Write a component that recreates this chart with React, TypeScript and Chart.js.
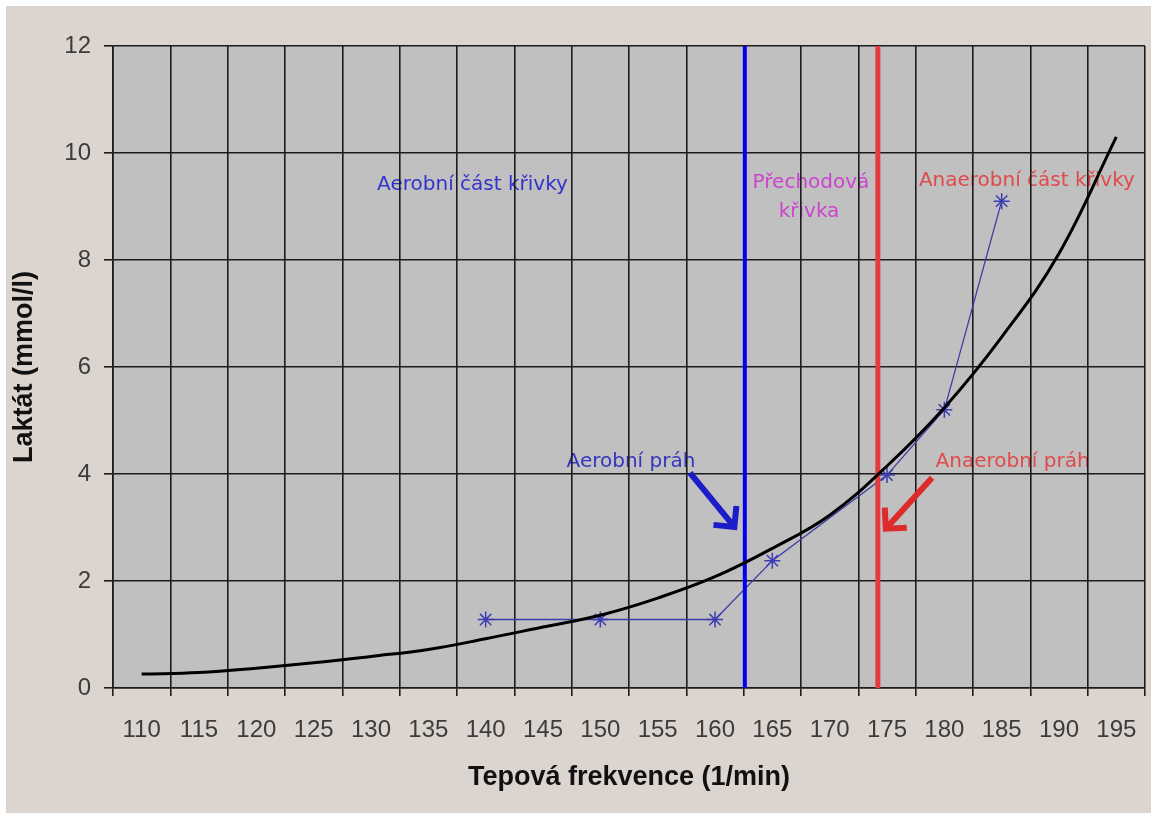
import React, { useEffect, useRef } from 'react';
import { Chart, registerables } from 'chart.js';

Chart.register(...registerables);

// ---- data ----
const heartRates = [110, 115, 120, 125, 130, 135, 140, 145, 150, 155, 160, 165, 170, 175, 180, 185, 190, 195];
const lactateCurve = [0.26, 0.29, 0.37, 0.47, 0.59, 0.72, 0.92, 1.14, 1.36, 1.68, 2.08, 2.61, 3.23, 4.15, 5.24, 6.56, 8.12, 10.3];
const measuredHR = [140, 150, 160, 165, 175, 180, 185];
const measuredLactate = [1.28, 1.28, 1.28, 2.38, 3.98, 5.2, 9.1];
const lactateTicks = [0, 2, 4, 6, 8, 10, 12];
const aerobicThreshold = 162.6;
const anaerobicThreshold = 174.2;

// annotation labels (data coordinates)
const noteTexts = ['Aerobní část křivky', 'Přechodová', 'křivka', 'Anaerobní část křivky', 'Aerobní práh', 'Anaerobní práh'];
const noteX = [138.85, 168.37, 168.2, 187.2, 152.67, 185.95];
const noteY = [9.4, 9.44, 8.9, 9.48, 4.22, 4.22];
const noteColors = ['#3333cc', '#cc44cc', '#cc44cc', '#e04a4a', '#3535c0', '#e04a4a'];

// arrows: [fromX, fromY, toX, toY]
const arrowCoords = [
  [157.82, 4.02, 161.92, 2.95],
  [178.93, 3.93, 174.65, 2.92],
];
const arrowColors = ['#1c1cc8', '#dd2a2a'];

const xMin = 107.5;
const xMax = 197.5;

function drawArrow(c: CanvasRenderingContext2D, x1: number, y1: number, x2: number, y2: number, color: string, width: number, head: number) {
  const ang = Math.atan2(y2 - y1, x2 - x1);
  const tx = x2 - Math.cos(ang) * width * 0.7;
  const ty = y2 - Math.sin(ang) * width * 0.7;
  c.save();
  c.strokeStyle = color;
  c.lineWidth = width;
  c.lineCap = 'butt';
  c.lineJoin = 'miter';
  c.beginPath();
  c.moveTo(x1, y1);
  c.lineTo(tx, ty);
  c.stroke();
  c.beginPath();
  c.moveTo(tx - head * Math.cos(ang - Math.PI / 4), ty - head * Math.sin(ang - Math.PI / 4));
  c.lineTo(tx, ty);
  c.lineTo(tx - head * Math.cos(ang + Math.PI / 4), ty - head * Math.sin(ang + Math.PI / 4));
  c.stroke();
  c.restore();
}

const App = () => {
  const ref = useRef<HTMLCanvasElement>(null);

  useEffect(() => {
    document.body.style.margin = '0';
    const canvas = ref.current;
    if (!canvas) return;

    const bgPlugin = {
      id: 'bgPlugin',
      beforeDraw(chart: any) {
        const c = chart.ctx as CanvasRenderingContext2D;
        const { left, top, right, bottom } = chart.chartArea;
        c.save();
        c.fillStyle = '#ffffff';
        c.fillRect(0, 0, chart.width, chart.height);
        c.fillStyle = '#dcd4ce';
        c.fillRect(6, 6, chart.width - 12, chart.height - 9);
        c.fillStyle = '#c0c0c0';
        c.fillRect(left, top, right - left, bottom - top);
        const xs = chart.scales.x;
        const ys = chart.scales.y;
        c.font = '20px "DejaVu Sans"';
        c.textAlign = 'center';
        c.textBaseline = 'middle';
        noteTexts.forEach((t, i) => {
          c.fillStyle = noteColors[i];
          c.fillText(t, xs.getPixelForValue(noteX[i]), ys.getPixelForValue(noteY[i]));
        });
        c.restore();
      },
      afterDatasetsDraw(chart: any) {
        const c = chart.ctx as CanvasRenderingContext2D;
        const xs = chart.scales.x;
        const ys = chart.scales.y;
        arrowCoords.forEach((a, i) => {
          drawArrow(
            c,
            xs.getPixelForValue(a[0]),
            ys.getPixelForValue(a[1]),
            xs.getPixelForValue(a[2]),
            ys.getPixelForValue(a[3]),
            arrowColors[i],
            6,
            21
          );
        });
      },
    };

    const gridColor = '#1c1c1c';
    const tickFont = { family: 'Liberation Sans, Arial, sans-serif', size: 24 };
    const titleFont = { family: 'Liberation Sans, Arial, sans-serif', size: 27, weight: 'bold' as const };

    const chart = new Chart(canvas, {
      type: 'line',
      data: {
        datasets: [
          {
            label: 'Trend',
            data: heartRates.map((x, i) => ({ x, y: lactateCurve[i] })),
            borderColor: '#000000',
            borderWidth: 3,
            pointRadius: 0,
            tension: 0.4,
            fill: false,
            order: 0,
          },
          {
            label: 'Aerobní práh',
            data: [
              { x: aerobicThreshold, y: 0 },
              { x: aerobicThreshold, y: 12 },
            ],
            borderColor: '#0000ee',
            borderWidth: 4,
            pointRadius: 0,
            fill: false,
            order: 1,
          },
          {
            label: 'Anaerobní práh',
            data: [
              { x: anaerobicThreshold, y: 0 },
              { x: anaerobicThreshold, y: 12 },
            ],
            borderColor: '#e43c3c',
            borderWidth: 5,
            pointRadius: 0,
            fill: false,
            order: 1,
          },
          {
            label: 'Měření',
            data: measuredHR.map((x, i) => ({ x, y: measuredLactate[i] })),
            borderColor: '#3c3ca8',
            borderWidth: 1.3,
            pointStyle: 'star',
            pointRadius: 8,
            pointBorderColor: '#3c3cb4',
            pointBorderWidth: 1.5,
            pointBackgroundColor: 'rgba(0,0,0,0)',
            tension: 0,
            fill: false,
            order: 2,
          },
        ],
      },
      options: {
        responsive: false,
        animation: false,
        devicePixelRatio: 1,
        layout: { padding: { left: 0, top: 46, right: 12, bottom: 0 } },
        plugins: {
          legend: { display: false },
          tooltip: { enabled: false },
        },
        scales: {
          x: {
            type: 'linear',
            min: xMin,
            max: xMax,
            bounds: 'data',
            afterBuildTicks: (s: any) => {
              s.ticks = heartRates.map((v) => ({ value: v }));
            },
            afterFit: (s: any) => {
              s.height = 128;
            },
            grid: { offset: true, color: gridColor, lineWidth: 1.6, tickLength: 8, drawTicks: true },
            border: { color: gridColor, width: 1.6 },
            ticks: {
              font: tickFont,
              color: '#3c3c3c',
              padding: 20,
              maxRotation: 0,
              autoSkip: false,
              callback: (v: any) => String(v),
            },
            title: {
              display: true,
              text: 'Tepová frekvence (1/min)',
              font: titleFont,
              color: '#111111',
              padding: { top: 0, bottom: 22 },
            },
          },
          y: {
            type: 'linear',
            min: 0,
            max: 12,
            afterBuildTicks: (s: any) => {
              s.ticks = lactateTicks.map((v) => ({ value: v }));
            },
            afterFit: (s: any) => {
              s.width = 113;
            },
            grid: { color: gridColor, lineWidth: 1.6, tickLength: 9 },
            border: { color: gridColor, width: 1.6 },
            ticks: { font: tickFont, color: '#3c3c3c', padding: 13 },
            title: {
              display: true,
              text: 'Laktát (mmol/l)',
              font: titleFont,
              color: '#111111',
              padding: { top: 8, bottom: 0 },
            },
          },
        },
      },
      plugins: [bgPlugin],
    } as any);

    return () => chart.destroy();
  }, []);

  return <canvas ref={ref} width={1157} height={816} style={{ display: 'block' }} />;
};

export default App;
